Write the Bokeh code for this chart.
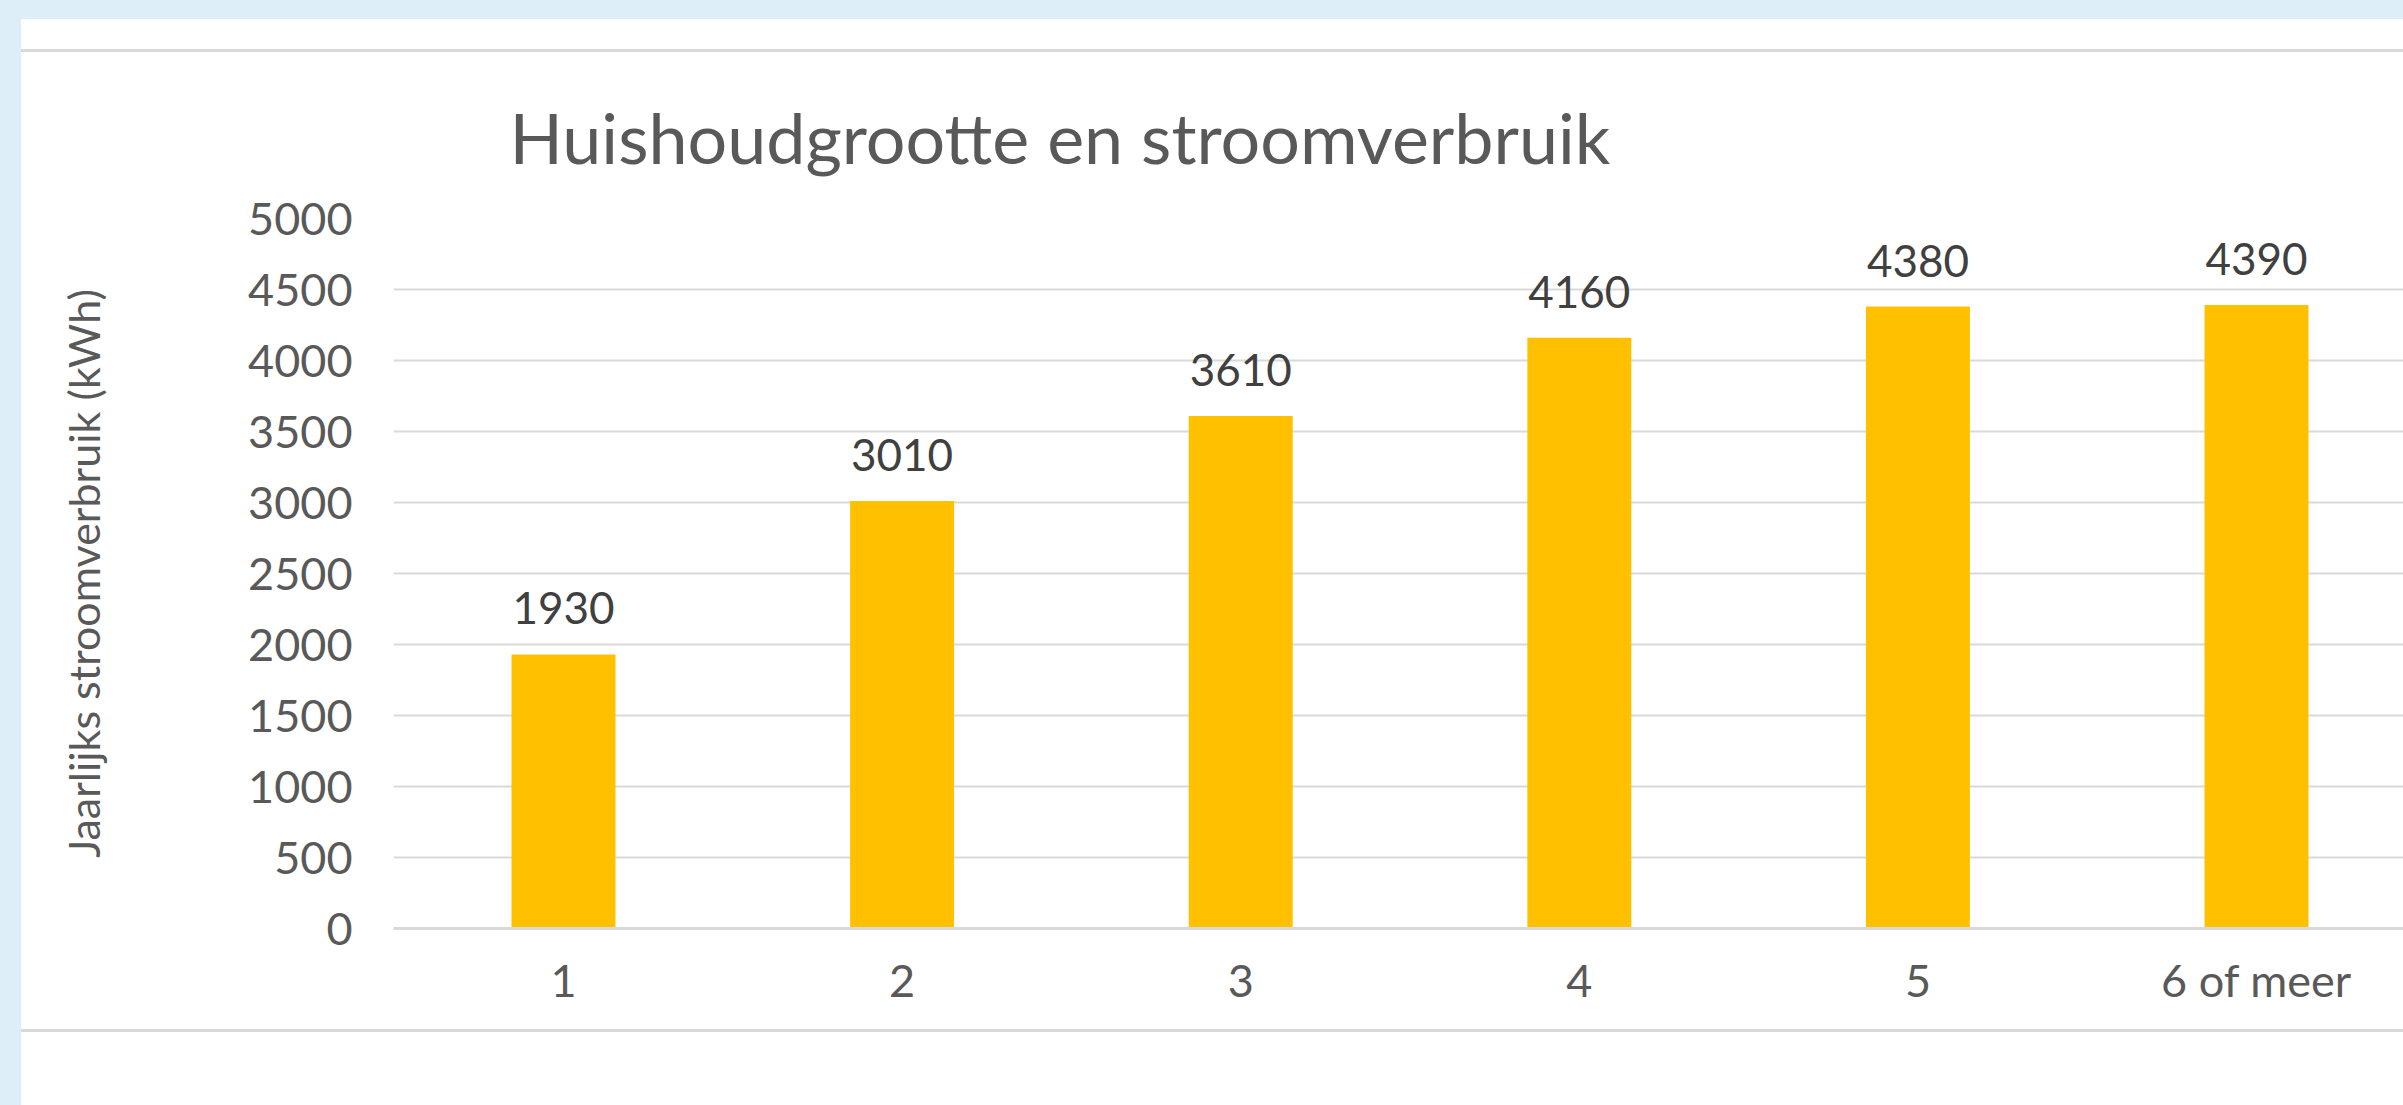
from bokeh.plotting import figure
from bokeh.models import Range1d, FixedTicker, ColumnDataSource, Spacer
from bokeh.layouts import row, column
from bokeh.core.properties import value
from bokeh.embed import file_html
from bokeh.resources import INLINE

# ---- data ----
categories = ["1", "2", "3", "4", "5", "6 of meer"]
verbruik = [1930, 3010, 3610, 4160, 4380, 4390]
y_ticks = [0, 500, 1000, 1500, 2000, 2500, 3000, 3500, 4000, 4500, 5000]
title_text = "Huishoudgrootte en stroomverbruik"
y_title = "Jaarlijks stroomverbruik (kWh)"

xs = list(range(len(categories)))
src = ColumnDataSource(dict(x=xs, top=verbruik, label=[str(v) for v in verbruik]))

FONT = "Lato"
GREY = "#595959"
BLUE = "#DDEEF9"
LINE = "#D9D9D9"

PW, PH = 2382, 977

p = figure(width=PW, height=PH, output_backend="svg", toolbar_location=None,
           x_range=Range1d(-0.502, 5.434), y_range=Range1d(0, 5000),
           min_border_left=372, min_border_right=0, min_border_top=166,
           min_border_bottom=101)
p.background_fill_color = "white"
p.border_fill_color = "white"
p.outline_line_color = None

# title
p.title.text = title_text
p.title.text_font = FONT
p.title.text_font_size = "70px"
p.title.text_font_style = "normal"
p.title.text_color = GREY
p.title.align = "left"
p.title.offset = 116
p.title.standoff = 80

# bars
p.vbar(x="x", top="top", width=0.307, source=src, fill_color="#FFC000",
       line_color=None)
p.text(x="x", y="top", text="label", source=src, text_align="center",
       text_baseline="alphabetic", y_offset=-46, text_font=value(FONT),
       text_font_size="44px", text_color="#404040")

# axes
p.xaxis.ticker = FixedTicker(ticks=xs)
p.xaxis.major_label_overrides = {i: c for i, c in zip(xs, categories)}
p.xaxis.major_tick_line_color = None
p.xaxis.minor_tick_line_color = None
p.xaxis.axis_line_color = LINE
p.xaxis.axis_line_width = 3
p.xaxis.major_label_text_font = FONT
p.xaxis.major_label_text_font_size = "45px"
p.xaxis.major_label_text_color = GREY
p.xaxis.major_label_standoff = 18

p.yaxis.ticker = FixedTicker(ticks=y_ticks)
p.yaxis.major_tick_line_color = None
p.yaxis.minor_tick_line_color = None
p.yaxis.axis_line_color = None
p.yaxis.major_label_text_font = FONT
p.yaxis.major_label_text_font_size = "45px"
p.yaxis.major_label_text_color = GREY
p.yaxis.major_label_standoff = 35
p.yaxis.axis_label = y_title
p.yaxis.axis_label_text_font = FONT
p.yaxis.axis_label_text_font_size = "43px"
p.yaxis.axis_label_text_font_style = "normal"
p.yaxis.axis_label_text_color = GREY
p.yaxis.axis_label_standoff = 136

p.xgrid.visible = False
p.ygrid.ticker = FixedTicker(ticks=y_ticks)
p.ygrid.grid_line_color = LINE
p.ygrid.grid_line_width = 2

# page frame: blue border and separator lines around the chart card
def block(w, h, color):
    return Spacer(width=w, height=h, styles={"background-color": color})

card = column(block(PW, 19, BLUE), block(PW, 30, "white"), block(PW, 3, LINE),
              p, block(PW, 3, LINE), block(PW, 73, "white"), spacing=0)
page = row(block(21, 1105, BLUE), card, spacing=0)

open("out.html", "w").write(file_html(page, INLINE))
